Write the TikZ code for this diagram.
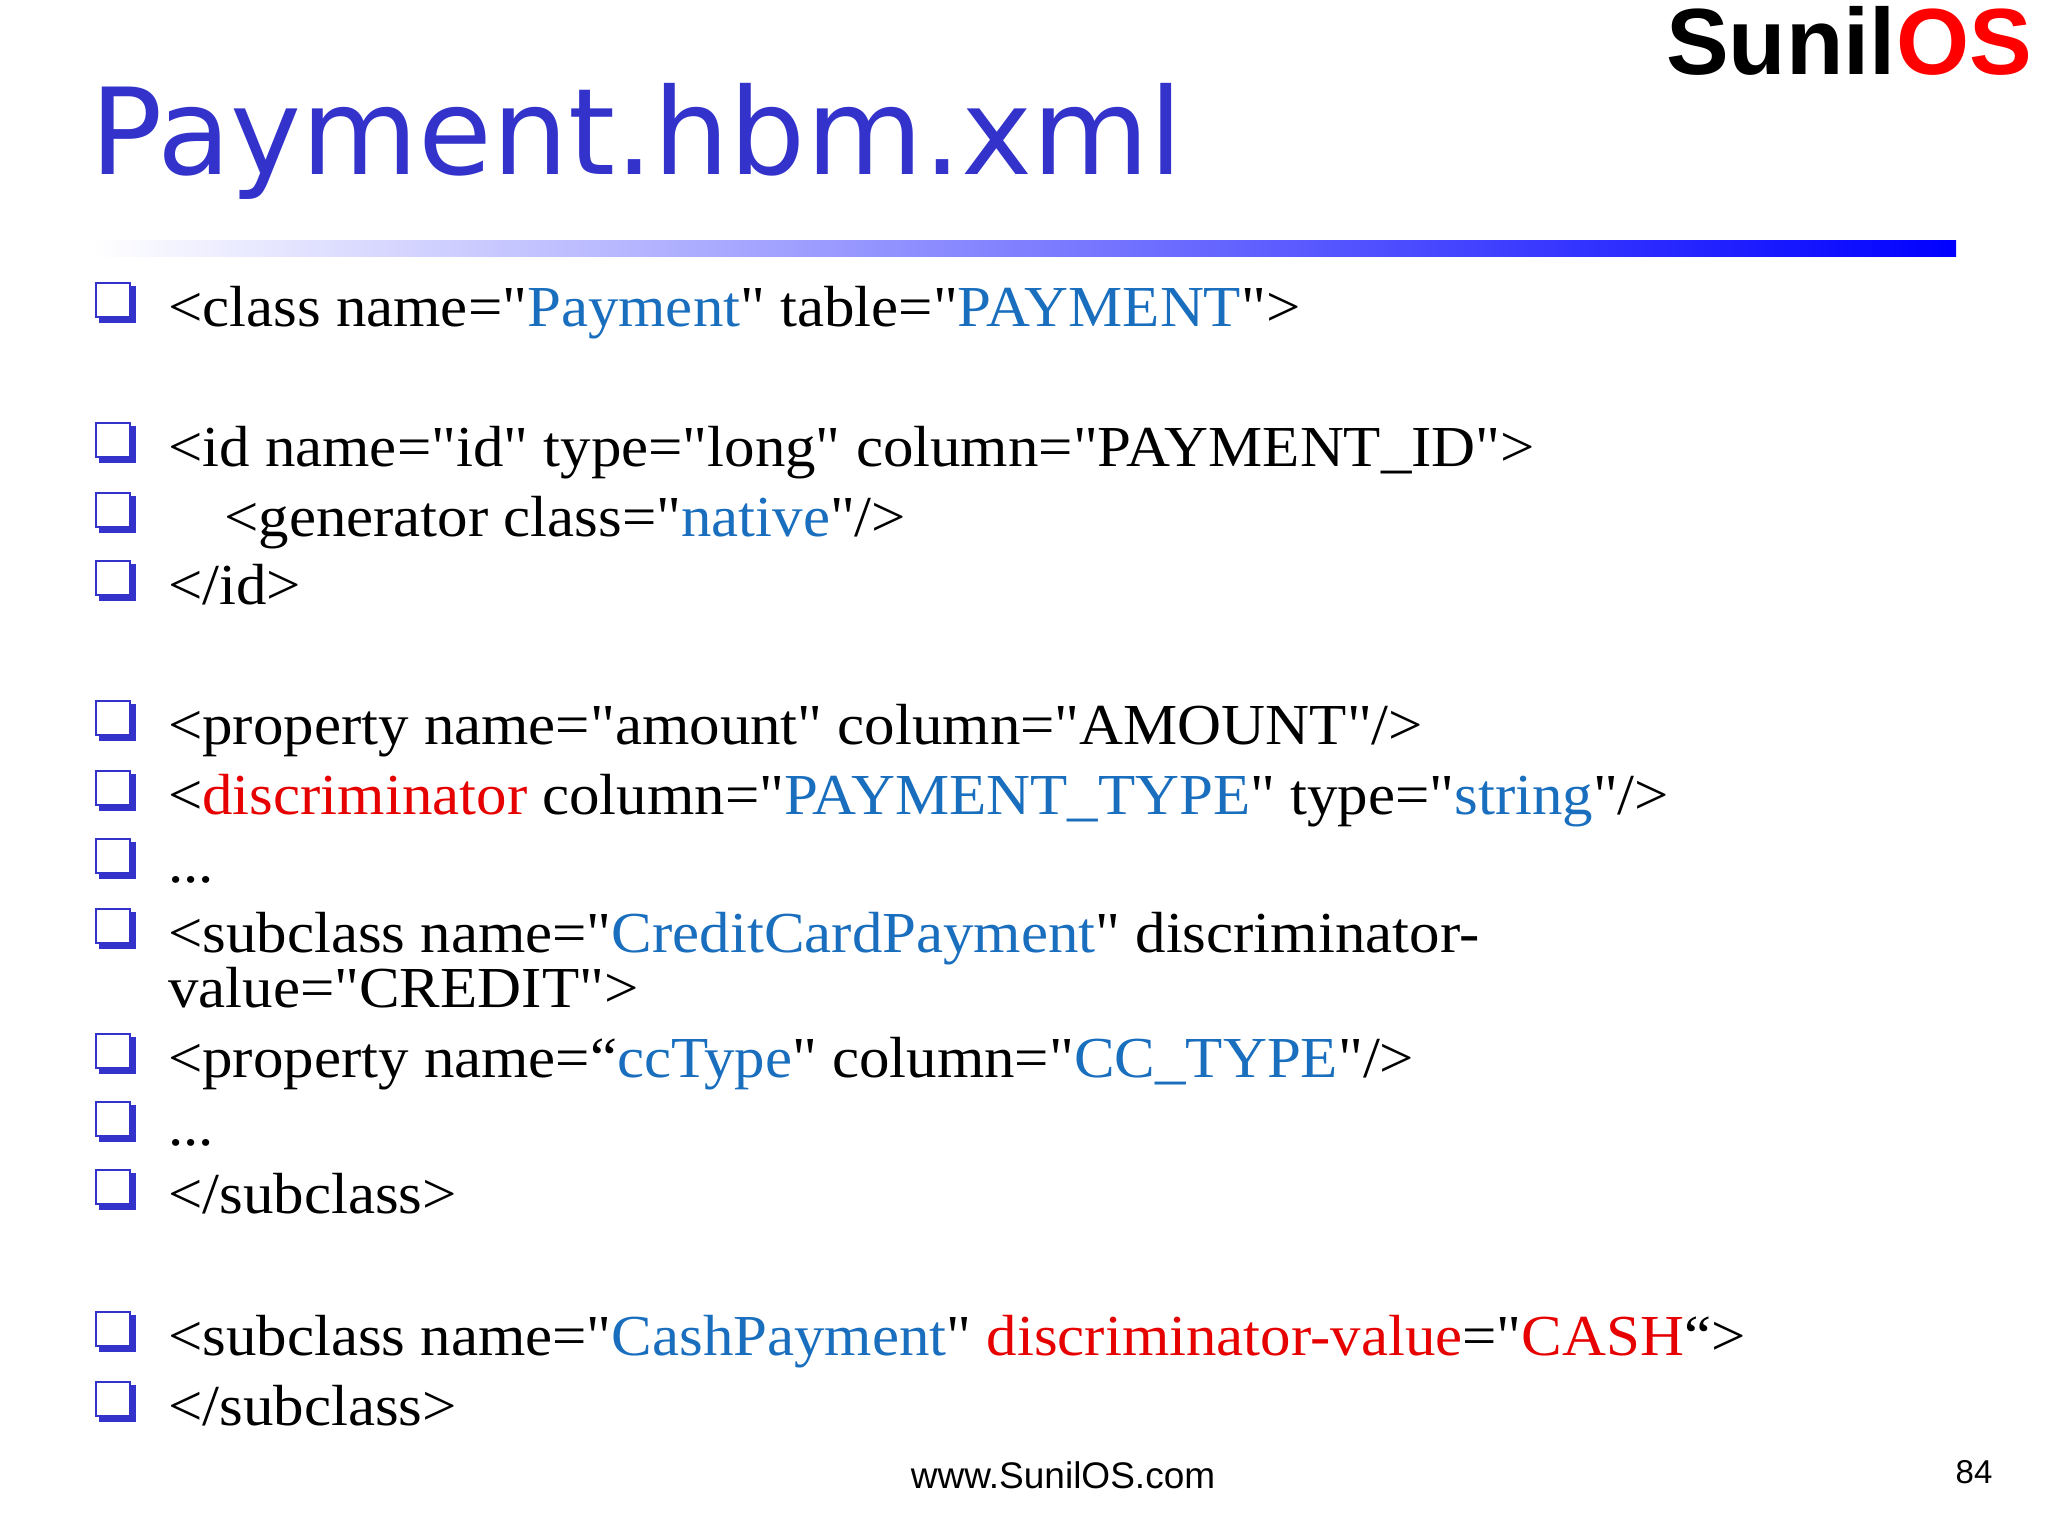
\documentclass[tikz,border=0pt]{standalone}
\usepackage{fontspec}
\defaultfontfeatures[\rmfamily]{}
\setmainfont{Liberation Serif}[FakeStretch=1.05]
\newfontfamily\titlefont{DejaVu Sans}
\newfontfamily\arialfont{Liberation Sans}
\definecolor{ttl}{RGB}{51,51,204}
\definecolor{vb}{RGB}{25,110,190}
\definecolor{vr}{RGB}{230,0,0}
\definecolor{bul}{RGB}{51,51,204}
\newcommand\q{\symbol{34}}
\begin{document}
\begin{tikzpicture}[x=1pt,y=-1pt,
  ln/.style={anchor=base west,inner sep=0pt,font=\fontsize{58}{64}\selectfont}]
\useasboundingbox (0,0) rectangle (2048,1536);
\fill[white] (0,0) rectangle (2048,1536);
\node[anchor=base west,inner sep=0pt,text=ttl,font=\titlefont\fontsize{120}{124}\selectfont] (title) at (90,175) {Payment.hbm.xml};
\node[anchor=north east,inner sep=0pt,font=\arialfont\bfseries\fontsize{94}{96}\selectfont] (logo) at (2032,6) {Sunil\textcolor{red}{OS}};
\shade[left color=white,right color=blue] (92,240) rectangle (1956,256);
\newcommand\bult[1]{%
  \fill[bul] (99,#1-40) rectangle (136,#1-3);
  \fill[white,draw=bul,line width=2.5pt] (96,#1-43) rectangle (130,#1-9);}
\foreach \yy in {326,466,536,604,744,814,882,952,1077,1145,1213,1355,1425}{\bult{\yy}}
\node[ln] (l1) at (168,326) {<class name=\q\textcolor{vb}{Payment}\q{} table=\q\textcolor{vb}{PAYMENT}\q>};
\node[ln] (l2) at (168,466) {<id name=\q id\q{} type=\q long\q{} column=\q PAYMENT\_ID\q>};
\node[ln] (l3) at (168,536) {\hspace*{56pt}<generator class=\q\textcolor{vb}{native}\q/>};
\node[ln] (l4) at (168,604) {</id>};
\node[ln] (l5) at (168,744) {<property name=\q amount\q{} column=\q AMOUNT\q/>};
\node[ln] (l6) at (168,814) {<\textcolor{vr}{discriminator} column=\q\textcolor{vb}{PAYMENT\_TYPE}\q{} type=\q\textcolor{vb}{string}\q/>};
\node[ln] (l7) at (168,882) {...};
\node[ln] (l8) at (168,952) {<subclass name=\q\textcolor{vb}{CreditCardPayment}\q{} discriminator-};
\node[ln] (l8b) at (168,1007) {value=\q CREDIT\q>};
\node[ln] (l9) at (168,1077) {<property name=“\textcolor{vb}{ccType}\q{} column=\q\textcolor{vb}{CC\_TYPE}\q/>};
\node[ln] (l10) at (168,1145) {...};
\node[ln] (l11) at (168,1213) {</subclass>};
\node[ln] (l12) at (168,1355) {<subclass name=\q\textcolor{vb}{CashPayment}\q{} \textcolor{vr}{discriminator-value}=\q\textcolor{vr}{CASH}“>};
\node[ln] (l13) at (168,1425) {</subclass>};
\node[anchor=base,inner sep=0pt,font=\arialfont\fontsize{37}{40}\selectfont] (foot) at (1063,1488) {www.SunilOS.com};
\node[anchor=base,inner sep=0pt,font=\arialfont\fontsize{33}{36}\selectfont] (pg) at (1974,1483) {84};
\end{tikzpicture}
\end{document}
